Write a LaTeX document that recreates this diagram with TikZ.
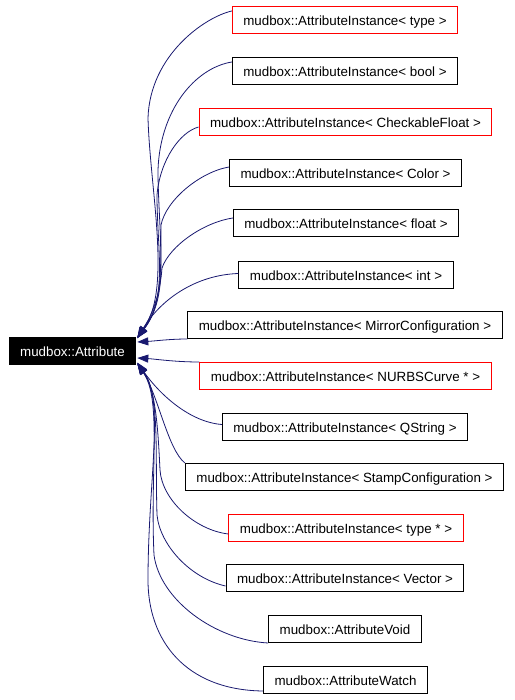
\documentclass[tikz,border=0pt]{standalone}
\usepackage{fontspec}
\setmainfont{Liberation Sans}
\usetikzlibrary{arrows.meta}
\definecolor{edgeblue}{RGB}{25,25,112}
\definecolor{boxred}{RGB}{255,0,0}
\begin{document}
\begin{tikzpicture}[x=1pt,y=-1pt,
  cls/.style={draw=black, line width=1pt, fill=white, inner xsep=11pt, inner ysep=0pt,
    minimum height=27pt, text height=12pt, text depth=1pt,
    font=\fontsize{13.35}{16}\selectfont},
  redcls/.style={cls, draw=boxred},
  rootcls/.style={cls, fill=black, text=white},
  edge/.style={draw=edgeblue, line width=0.8pt, -{Triangle[length=11pt,width=8pt]}}]
\useasboundingbox (0,0) rectangle (514,700);
\node[rootcls] (root) at (72.5,350.5) {mudbox::Attribute};
\node[redcls] (b1) at (345,20.5) {mudbox::AttributeInstance< type >};
\node[cls] (b2) at (345,71.5) {mudbox::AttributeInstance< bool >};
\node[redcls] (b3) at (345.5,122.5) {mudbox::AttributeInstance< CheckableFloat >};
\node[cls] (b4) at (345.5,173) {mudbox::AttributeInstance< Color >};
\node[cls] (b5) at (346,223.5) {mudbox::AttributeInstance< float >};
\node[cls] (b6) at (346,274.5) {mudbox::AttributeInstance< int >};
\node[cls] (b7) at (345,325) {mudbox::AttributeInstance< MirrorConfiguration >};
\node[redcls] (b8) at (345.5,376) {mudbox::AttributeInstance< NURBSCurve * >};
\node[cls] (b9) at (345,426.5) {mudbox::AttributeInstance< QString >};
\node[cls] (b10) at (344.5,477) {mudbox::AttributeInstance< StampConfiguration >};
\node[redcls] (b11) at (346,527.5) {mudbox::AttributeInstance< type * >};
\node[cls] (b12) at (345,578) {mudbox::AttributeInstance< Vector >};
\node[cls] (b13) at (345,629) {mudbox::AttributeVoid};
\node[cls] (b14) at (345.5,679.5) {mudbox::AttributeWatch};
% upper group
\draw[edge] ([yshift=9.5pt]b1.west) .. controls (205,17) and (150,55) .. (148,118)
  .. controls (150,190) and (172,290) .. ([xshift=1pt,yshift=13.5pt]root.east);
\draw[edge] ([yshift=9.5pt]b2.west) .. controls (195,68) and (160,110) .. (158,170)
  .. controls (158,230) and (170,295) .. ([xshift=1pt,yshift=13pt]root.east);
\draw[edge] ([yshift=-4.5pt]b3.west) .. controls (180,132) and (160,160) .. (157,195)
  .. controls (157,250) and (168,298) .. ([xshift=1pt,yshift=13pt]root.east);
\draw[edge] ([yshift=6pt]b4.west) .. controls (200,172) and (166,200) .. (161,225)
  .. controls (160,265) and (166,300) .. ([xshift=1pt,yshift=12.5pt]root.east);
\draw[edge] ([yshift=5.5pt]b5.west) .. controls (205,222) and (170,245) .. (162,268)
  .. controls (160,295) and (152,315) .. ([xshift=1pt,yshift=12.5pt]root.east);
\draw[edge] ([yshift=1pt]b6.west) .. controls (195,275) and (160,300)
  .. ([xshift=1pt,yshift=12pt]root.east);
% middle
\draw[edge] (b7.south west) .. controls (170,339) and (155,341) .. ([xshift=1pt,yshift=8.5pt]root.east);
\draw[edge] (b8.north west) .. controls (175,362) and (155,359) .. ([xshift=1pt,yshift=-7.5pt]root.east);
% lower group
\draw[edge] ([yshift=2pt]b9.west) .. controls (190,422) and (160,395) .. ([xshift=1pt,yshift=-12pt]root.east);
\draw[edge] (b10.north west) .. controls (168,450) and (158,395) .. ([xshift=1pt,yshift=-12.5pt]root.east);
\draw[edge] ([yshift=-6.5pt]b11.west) .. controls (195,530) and (162,500) .. (160,470)
  .. controls (158,430) and (156,390) .. ([xshift=1pt,yshift=-12.5pt]root.east);
\draw[edge] ([yshift=-8pt]b12.west) .. controls (190,578) and (160,545) .. (157,515)
  .. controls (155,450) and (160,395) .. ([xshift=1pt,yshift=-13pt]root.east);
\draw[edge] (b13.south west) .. controls (215,640) and (160,600) .. (154,555)
  .. controls (150,470) and (162,400) .. ([xshift=1pt,yshift=-13pt]root.east);
\draw[edge] ([yshift=-11.5pt]b14.west) .. controls (185,690) and (148,640) .. (148,580)
  .. controls (148,480) and (165,400) .. ([xshift=1pt,yshift=-13.5pt]root.east);
\end{tikzpicture}
\end{document}
